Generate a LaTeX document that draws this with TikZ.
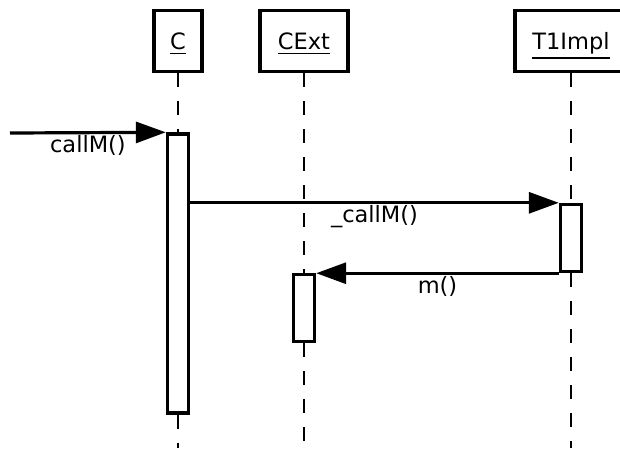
\documentclass[tikz,border=0pt]{standalone}
\usepackage{fontspec}
\setmainfont{DejaVu Sans}
\usetikzlibrary{arrows.meta,positioning}
\newcommand{\objname}[1]{\vtop{\hbox{#1}\kern3pt\hrule height 1.6pt}}

\begin{document}
\begin{tikzpicture}[x=1pt,y=-1pt,
	obj/.style={draw,line width=3.4pt,minimum height=61pt,inner sep=0pt,text height=17pt,text depth=0pt,font=\fontsize{22.5}{27}\selectfont},
	act/.style={draw,fill=white,line width=3.4pt,minimum width=21pt,inner sep=0pt},
	life/.style={line width=1.4pt,dash pattern=on 14pt off 14pt},
	msg/.style={line width=3.2pt,-{Triangle[length=30pt,width=21pt]}},
	lbl/.style={anchor=base,inner sep=0pt,font=\fontsize{22.5}{27}\selectfont}]
	\useasboundingbox (0,0) rectangle (620,448);
	% objects
	\node[obj,minimum width=48pt] (c) at (178,41) {\objname{C}};
	\node[obj,minimum width=88pt] (cext) at (304,41) {\objname{CExt}};
	\node[obj,minimum width=112pt] (t1) at (571,41) {\objname{T1Impl}};
	% activations
	\node[act,minimum height=279pt] (cact) at (178,273.5) {};
	\node[act,minimum height=67pt] (t1act) at (571,238) {};
	\node[act,minimum height=67pt] (cextact) at (304,308) {};
	\coordinate (in) at (10,133);
	% lifelines
	\draw[life] (c.south) -- (cact.north);
	\draw[life] (cact.south) -- (cact.south |- 0,448);
	\draw[life] (cext.south) -- (cextact.north);
	\draw[life] (cextact.south) -- (cextact.south |- 0,448);
	\draw[life] (t1.south) -- (t1act.north);
	\draw[life] (t1act.south) -- (t1act.south |- 0,448);
	% messages
	\draw[msg] (in) -- (cact.north west) node[lbl,midway,yshift=-20pt] {callM()};
	\draw[msg] (cact.east |- t1act.north) -- (t1act.north west) node[lbl,midway,yshift=-20pt] {\_callM()};
	\draw[msg] (t1act.south west) -- (cextact.east |- t1act.south west) node[lbl,midway,yshift=-20pt] {m()};
\end{tikzpicture}
\end{document}
